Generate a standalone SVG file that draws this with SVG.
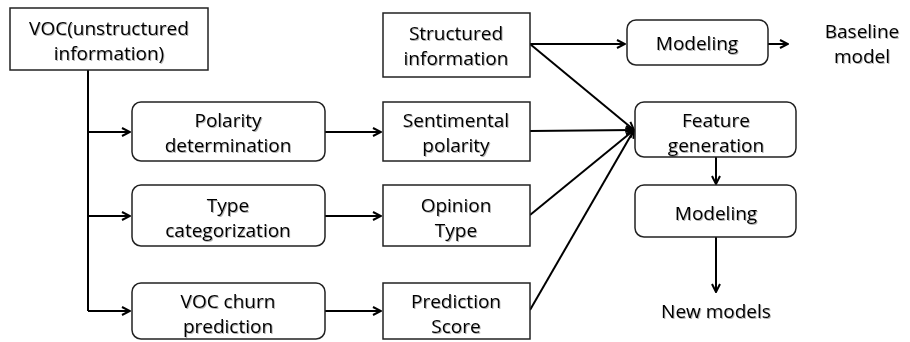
<svg xmlns="http://www.w3.org/2000/svg" width="910" height="342" viewBox="0 0 910 342">
<defs>
<marker id="arr" viewBox="0 0 10 10" refX="9" refY="5" markerWidth="10" markerHeight="10" markerUnits="userSpaceOnUse" orient="auto">
<path d="M1,1 L9,5 L1,9" fill="none" stroke="#000" stroke-width="2"/>
</marker>
<filter id="sh" x="-5%" y="-20%" width="110%" height="140%">
<feDropShadow dx="1" dy="1" stdDeviation="0.7" flood-color="#000" flood-opacity="0.3"/>
</filter>
</defs>
<style>
rect{fill:#fff;stroke:#222;stroke-width:1.5}
text{font-family:"Open Sans","Liberation Sans",sans-serif;font-size:19px;font-weight:500;fill:#000;text-anchor:middle;filter:url(#sh)}
.c{fill:none;stroke:#000;stroke-width:2}
</style>
<g id="connectors">
<path class="c" d="M88,70 V311"/>
<path class="c" d="M88,132 H130" marker-end="url(#arr)"/>
<path class="c" d="M88,216 H130" marker-end="url(#arr)"/>
<path class="c" d="M88,311 H130" marker-end="url(#arr)"/>
<path class="c" d="M325,132 H381" marker-end="url(#arr)"/>
<path class="c" d="M325,216 H381" marker-end="url(#arr)"/>
<path class="c" d="M325,311 H381" marker-end="url(#arr)"/>
<path class="c" d="M530,44 H625" marker-end="url(#arr)"/>
<path class="c" d="M768,44 H788" marker-end="url(#arr)"/>
<path class="c" d="M530,44 L634,130" marker-end="url(#arr)"/>
<path class="c" d="M530,131 L634,130" marker-end="url(#arr)"/>
<path class="c" d="M530,215 L634,130" marker-end="url(#arr)"/>
<path class="c" d="M530,310 L634,130" marker-end="url(#arr)"/>
<path class="c" d="M716,157 V184" marker-end="url(#arr)"/>
<path class="c" d="M716,237 V292" marker-end="url(#arr)"/>
</g>
<g id="voc"><rect x="10" y="8" width="198" height="62"/><text x="109" y="35">VOC(unstructured</text><text x="109" y="60">information)</text></g>
<g id="polarity"><rect x="132" y="102" width="193" height="59" rx="9"/><text x="228" y="127">Polarity</text><text x="228" y="152">determination</text></g>
<g id="type"><rect x="132" y="185" width="193" height="61" rx="9"/><text x="228" y="212">Type</text><text x="228" y="237">categorization</text></g>
<g id="churn"><rect x="132" y="283" width="193" height="56" rx="9"/><text x="228" y="308">VOC churn</text><text x="228" y="333">prediction</text></g>
<g id="structured"><rect x="383" y="13" width="147" height="64"/><text x="456" y="40">Structured</text><text x="456" y="65">information</text></g>
<g id="sentimental"><rect x="383" y="102" width="147" height="59"/><text x="456" y="127">Sentimental</text><text x="456" y="152">polarity</text></g>
<g id="opinion"><rect x="383" y="185" width="147" height="61"/><text x="456" y="212">Opinion</text><text x="456" y="237">Type</text></g>
<g id="score"><rect x="383" y="283" width="147" height="56"/><text x="456" y="308">Prediction</text><text x="456" y="333">Score</text></g>
<g id="modeling1"><rect x="627" y="20" width="141" height="45" rx="9"/><text x="697" y="50">Modeling</text></g>
<g id="baseline"><text x="862" y="38">Baseline</text><text x="862" y="63">model</text></g>
<g id="feature"><rect x="635" y="102" width="161" height="55" rx="9"/><text x="716" y="127">Feature</text><text x="716" y="152">generation</text></g>
<g id="modeling2"><rect x="635" y="185" width="161" height="52" rx="9"/><text x="716" y="220">Modeling</text></g>
<g id="newmodels"><text x="716" y="318">New models</text></g>
</svg>
